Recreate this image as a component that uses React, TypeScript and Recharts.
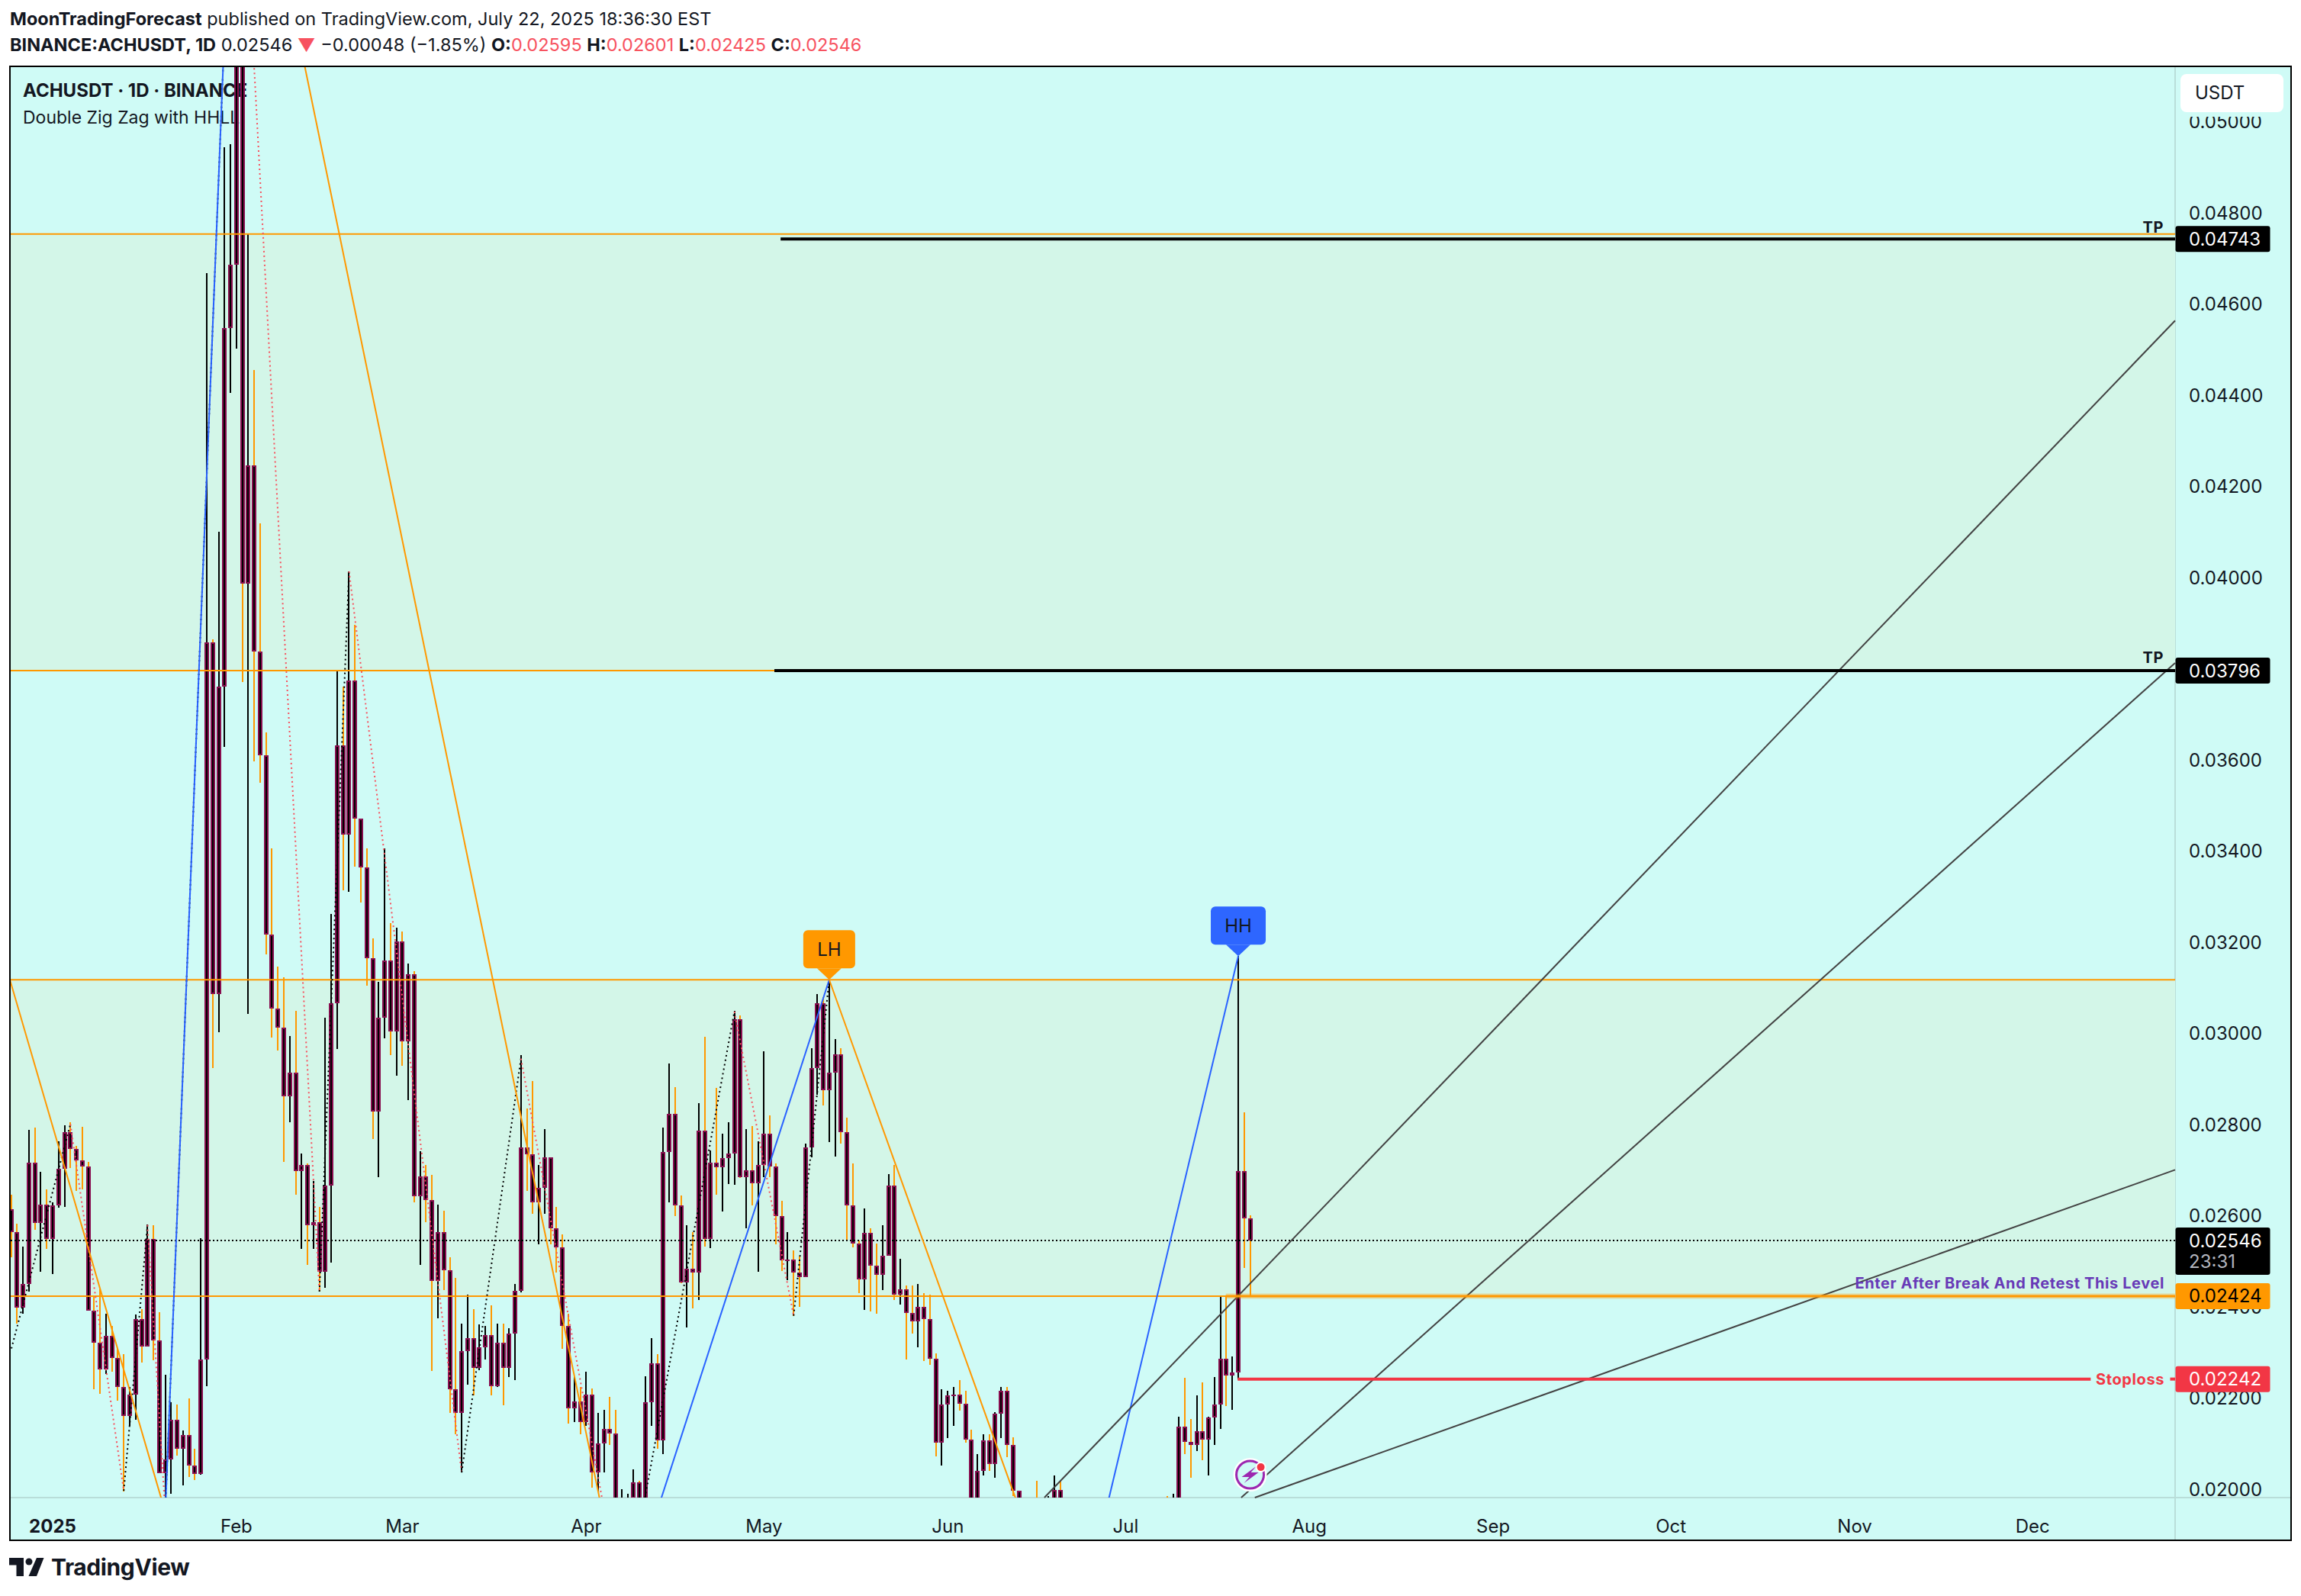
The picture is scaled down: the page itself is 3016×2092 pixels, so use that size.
import React from "react";
import {
  Bar,
  ComposedChart,
  Line,
  ReferenceArea,
  ReferenceDot,
  ReferenceLine,
  XAxis,
  YAxis,
} from "recharts";

const BG = "#cffbf6";
const ZONE = "#d3f6e8";
const AXIS = "#b9ded9";
const INK = "#131722";
const ORANGE = "#ff9800";
const BLUE = "#2962ff";
const RED = "#f23645";
const PINK = "#f7525f";
const CRIMSON = "#880e4f";
const FONT = "Inter, 'Noto Sans', sans-serif";

// first candle is 7 days before Jan 1, one candle per day up to Jul 22
const FIRST_DAY = -7;
const FIRST_OPEN = 0.02614;

const closes = [
  0.02564, 0.02399, 0.0245, 0.02717, 0.02584, 0.02625, 0.02549,
  0.02623, 0.02704, 0.02784, 0.02747, 0.02722, 0.02708, 0.02392, 0.02322, 0.02263, 0.02337,
  0.02288, 0.02224, 0.02161, 0.02208, 0.02374, 0.02313, 0.02549, 0.02327, 0.02035, 0.02065,
  0.02152, 0.02089, 0.02119, 0.02052, 0.02034, 0.02285, 0.03858, 0.03087, 0.03761, 0.04547,
  0.04686, 0.054, 0.03987, 0.04246, 0.03838, 0.0361, 0.03217, 0.03055, 0.03013, 0.02863,
  0.02914, 0.02699, 0.02711, 0.0258, 0.02587, 0.02477, 0.02666, 0.03066, 0.03633, 0.03437,
  0.03774, 0.03471, 0.03364, 0.03166, 0.02829, 0.03035, 0.03161, 0.03004, 0.03202, 0.02983,
  0.0313, 0.02643, 0.02687, 0.02634, 0.02457, 0.02564, 0.02481, 0.02219, 0.02167, 0.02304,
  0.02331, 0.02266, 0.02312, 0.02338, 0.02227, 0.02322, 0.02267, 0.02342, 0.02435, 0.0275,
  0.02735, 0.0263, 0.02662, 0.02728, 0.02573, 0.02531, 0.02358, 0.02177, 0.02193, 0.02147,
  0.02208, 0.02037, 0.02101, 0.02132, 0.02123, 0.0188, 0.0195, 0.0198, 0.02015, 0.0195,
  0.02192, 0.02276, 0.02107, 0.0274, 0.02823, 0.02623, 0.02454, 0.02484, 0.02475, 0.02787,
  0.02549, 0.02717, 0.02707, 0.02726, 0.02737, 0.03031, 0.02685, 0.027, 0.02672, 0.02711,
  0.0278, 0.02708, 0.026, 0.02502, 0.02504, 0.02475, 0.02466, 0.0275, 0.02925, 0.03066,
  0.02875, 0.02914, 0.02954, 0.02783, 0.02623, 0.0254, 0.02461, 0.02562, 0.0249, 0.0247,
  0.02512, 0.02666, 0.02428, 0.02439, 0.02387, 0.02368, 0.024, 0.02374, 0.02286, 0.02103,
  0.02186, 0.02206, 0.02208, 0.02188, 0.02109, 0.0197, 0.0204, 0.02107, 0.02055, 0.02166,
  0.02217, 0.02098, 0.01997, 0.0195, 0.0194, 0.01915, 0.01895, 0.019, 0.0196, 0.01999,
  0.0193, 0.0178, 0.0181, 0.0182, 0.0184, 0.0183, 0.0186, 0.0184, 0.0188, 0.019,
  0.0189, 0.0191, 0.0193, 0.019, 0.0194, 0.0195, 0.0192, 0.0195, 0.0193, 0.0196,
  0.02137, 0.02105, 0.02097, 0.02127, 0.0211, 0.02157, 0.02187, 0.02286, 0.0225, 0.02257,
  0.02699, 0.02595, 0.02546,
];

const highs = [
  0.02647, 0.02582, 0.02533, 0.02789, 0.02793, 0.02696, 0.02658,
  0.0263, 0.02763, 0.02799, 0.02805, 0.02753, 0.02795, 0.02719, 0.02425, 0.02439, 0.02385,
  0.02358, 0.02309, 0.02297, 0.02224, 0.02383, 0.02396, 0.02581, 0.0258, 0.02389, 0.02251,
  0.02191, 0.02186, 0.02129, 0.02199, 0.02089, 0.02551, 0.04668, 0.03864, 0.041, 0.04944,
  0.04951, 0.0585, 0.0548, 0.04755, 0.04455, 0.04119, 0.0366, 0.03407, 0.03147, 0.03123,
  0.02995, 0.0305, 0.02737, 0.02715, 0.02676, 0.0262, 0.03035, 0.03262, 0.03797, 0.03761,
  0.04014, 0.03896, 0.03472, 0.03407, 0.03209, 0.03113, 0.03407, 0.03242, 0.03232, 0.03224,
  0.03154, 0.03136, 0.02742, 0.02712, 0.0269, 0.02624, 0.02612, 0.02509, 0.02464, 0.02363,
  0.02427, 0.02396, 0.02362, 0.02358, 0.02403, 0.02364, 0.02364, 0.02354, 0.02451, 0.02952,
  0.02835, 0.02896, 0.02712, 0.0279, 0.02728, 0.0262, 0.0256, 0.02385, 0.02246, 0.02224,
  0.02258, 0.02221, 0.02168, 0.02174, 0.02203, 0.02174, 0.02001, 0.0199, 0.02044, 0.02019,
  0.02248, 0.02331, 0.02297, 0.02793, 0.02935, 0.02883, 0.02645, 0.0258, 0.02564, 0.02847,
  0.02993, 0.02744, 0.0288, 0.02781, 0.02805, 0.03049, 0.0304, 0.02791, 0.02797, 0.02763,
  0.02961, 0.0282, 0.02715, 0.02633, 0.02564, 0.02524, 0.02511, 0.02759, 0.02968, 0.03087,
  0.0308, 0.03118, 0.02988, 0.02968, 0.02815, 0.02715, 0.02546, 0.02616, 0.02573, 0.0254,
  0.0258, 0.02692, 0.02712, 0.02506, 0.02448, 0.02448, 0.0245, 0.0243, 0.02428, 0.02298,
  0.02219, 0.02217, 0.02224, 0.02239, 0.02217, 0.02131, 0.02078, 0.02121, 0.02121, 0.0217,
  0.02224, 0.02224, 0.02114, 0.01997, 0.0196, 0.0195, 0.02019, 0.0194, 0.01985, 0.02031,
  0.02019, 0.01935, 0.0183, 0.0186, 0.0188, 0.0187, 0.0189, 0.019, 0.0192, 0.0193,
  0.0195, 0.0194, 0.0196, 0.0195, 0.0197, 0.0198, 0.0196, 0.0197, 0.01985, 0.0199,
  0.02159, 0.02245, 0.02154, 0.02207, 0.02235, 0.02159, 0.02247, 0.02426, 0.02426, 0.02291,
  0.0317, 0.02827, 0.02601,
];

const lows = [
  0.02509, 0.02363, 0.02385, 0.02434, 0.02569, 0.02477, 0.02527,
  0.02473, 0.02618, 0.0262, 0.02705, 0.02654, 0.02658, 0.02392, 0.02219, 0.0221, 0.02253,
  0.02258, 0.02195, 0.01996, 0.0214, 0.02152, 0.02278, 0.02313, 0.02284, 0.02035, 0.0195,
  0.01991, 0.02074, 0.02009, 0.02028, 0.0202, 0.02033, 0.02227, 0.02925, 0.03003, 0.03628,
  0.04405, 0.04502, 0.03771, 0.03043, 0.03597, 0.03551, 0.03174, 0.02992, 0.02963, 0.02719,
  0.02805, 0.02647, 0.02527, 0.02493, 0.02527, 0.02434, 0.02443, 0.02497, 0.02966, 0.03314,
  0.03311, 0.03366, 0.03288, 0.03105, 0.02769, 0.02685, 0.0299, 0.02952, 0.02907, 0.0293,
  0.02854, 0.02629, 0.02493, 0.02587, 0.0226, 0.02376, 0.02437, 0.02168, 0.02121, 0.02037,
  0.0223, 0.02206, 0.02262, 0.02285, 0.02206, 0.02225, 0.02185, 0.02246, 0.0224, 0.02432,
  0.02654, 0.02605, 0.02537, 0.02605, 0.02537, 0.02475, 0.02309, 0.02145, 0.02147, 0.02121,
  0.02139, 0.02004, 0.01995, 0.02037, 0.02098, 0.0182, 0.01725, 0.019, 0.0193, 0.0191,
  0.01925, 0.02139, 0.02089, 0.02078, 0.0263, 0.026, 0.02452, 0.02355, 0.02397, 0.02416,
  0.02533, 0.02529, 0.02647, 0.02609, 0.0267, 0.02669, 0.02683, 0.02573, 0.02623, 0.02477,
  0.02685, 0.02685, 0.02537, 0.02479, 0.02459, 0.02381, 0.02401, 0.02466, 0.02728, 0.02865,
  0.02842, 0.02762, 0.0273, 0.02759, 0.02544, 0.02531, 0.0243, 0.02394, 0.02391, 0.02385,
  0.02437, 0.02512, 0.02416, 0.02406, 0.02285, 0.02342, 0.02312, 0.02282, 0.02273, 0.02073,
  0.02053, 0.02113, 0.02139, 0.02172, 0.02103, 0.0195, 0.0194, 0.02031, 0.0204, 0.02026,
  0.02113, 0.02071, 0.01986, 0.019, 0.0189, 0.0187, 0.0186, 0.0185, 0.0188, 0.0193,
  0.0188, 0.01638, 0.0174, 0.0178, 0.018, 0.0179, 0.0181, 0.0182, 0.0183, 0.0186,
  0.0187, 0.0188, 0.0189, 0.0188, 0.0189, 0.0192, 0.019, 0.0191, 0.0191, 0.0192,
  0.0195, 0.02077, 0.02025, 0.02084, 0.02064, 0.0203, 0.02097, 0.02132, 0.02182, 0.02174,
  0.02242, 0.02486, 0.02425,
];

const candles = closes.map((close, i) => ({
  day: FIRST_DAY + i,
  open: i === 0 ? FIRST_OPEN : closes[i - 1],
  high: highs[i],
  low: lows[i],
  close,
}));

// main zig zag (solid), orange going down and blue going up
const zigDays = [-7.21, 19, 31, 96.3, 131, 171.9, 200];
const zigValues = [0.03118, 0.0195, 0.0585, 0.01725, 0.03118, 0.01638, 0.0317];

// smaller zig zag (dotted), pink going down and black going up
const swingDays = [-6.95, 3, 12, 16, 19, 31, 45, 50, 69, 79, 96.3, 115, 125, 131];
const swingValues = [
  0.02309, 0.02801, 0.01997, 0.0258, 0.0195, 0.0585, 0.02434, 0.04014, 0.02037, 0.02945, 0.01725,
  0.03048, 0.02381, 0.03118,
];

const monthDays = [0, 31, 59, 90, 120, 151, 181, 212, 243, 273, 304, 334];
const monthLabels = ["2025", "Feb", "Mar", "Apr", "May", "Jun", "Jul", "Aug", "Sep", "Oct", "Nov", "Dec"];
const priceTicks = [
  0.02, 0.022, 0.024, 0.026, 0.028, 0.03, 0.032, 0.034, 0.036, 0.038, 0.04, 0.042, 0.044, 0.046,
  0.048, 0.05,
];

const X_MIN = -7.207;
const X_MAX = 358.04;
const Y_MIN = 0.01982;
const Y_MAX = 0.0512;

const zoneTops = [0.04754, 0.03118];
const zoneBottoms = [0.03796, 0.02424];
const orangeLevels = [0.04754, 0.03796, 0.03118, 0.02424];
const LAST_PRICE = 0.02546;
const TP_LEVELS = [0.04743, 0.03796];
const TP_STARTS = [122.8, 121.75];
const ENTRY = 0.02424;
const STOP = 0.02242;

const trendStarts = [
  [167.3, Y_MIN],
  [200.5, Y_MIN],
  [202.8, Y_MIN],
];
const trendEnds = [
  [X_MAX, 0.04564],
  [X_MAX, 0.03813],
  [X_MAX, 0.02701],
];

// prices with a coloured tag on the axis; they come last in the axis ticks so they cover the plain labels
const tagPrices = [0.04743, 0.03796, 0.02546, 0.02424, 0.02242];
const tagFills = ["#000000", "#000000", "#000000", ORANGE, RED];
const tagColors = ["#ffffff", "#ffffff", "#ffffff", "#000000", "#ffffff"];
const COUNTDOWN = "23:31";

function Candle(props: any) {
  const { x, y, width, height, payload } = props;
  const { open, close, high, low } = payload;
  const perUnit = height / (high - low);
  const at = (v: number) => y + (high - v) * perUnit;
  const cx = Math.round(x + width / 2);
  const top = at(Math.max(open, close));
  const bodyH = Math.max(at(Math.min(open, close)) - top, 2);
  const wick = close < open ? ORANGE : "#000000";
  return (
    <g shapeRendering="crispEdges">
      <rect x={cx - 1} y={y} width={2} height={height} fill={wick} />
      <rect x={cx - 3} y={top} width={6} height={bodyH} fill={CRIMSON} />
      {bodyH > 4 && <rect x={cx - 1} y={top + 2} width={2} height={bodyH - 4} fill="#000000" />}
    </g>
  );
}

function MonthTick({ x, y, payload }: any) {
  const i = monthDays.indexOf(payload.value);
  return (
    <text
      x={x}
      y={y + 29}
      textAnchor="middle"
      dominantBaseline="central"
      fontFamily={FONT}
      fontSize={24}
      fontWeight={i === 0 ? 700 : 400}
      fill={INK}
    >
      {monthLabels[i]}
    </text>
  );
}

function PriceTick({ x, y, payload }: any) {
  const tag = tagPrices.indexOf(payload.value);
  const label = payload.value.toFixed(5);
  const common = { x, fontFamily: FONT, fontSize: 24, dominantBaseline: "central" } as any;
  if (tag < 0) {
    return (
      <text {...common} y={y} fill={INK}>
        {label}
      </text>
    );
  }
  const isLast = payload.value === LAST_PRICE;
  return (
    <g>
      <rect x={x - 17.5} y={y - 17} width={124} height={isLast ? 62 : 34} rx={3} fill={tagFills[tag]} />
      <text {...common} y={y} fill={tagColors[tag]}>
        {label}
      </text>
      {isLast && (
        <text {...common} y={y + 27} fill="#b2b5be">
          {COUNTDOWN}
        </text>
      )}
    </g>
  );
}

function textAt(label: string, color: string, right: number, dy: number, size: number) {
  return ({ cx, cy }: any) => (
    <text
      x={cx - right}
      y={cy + dy}
      textAnchor="end"
      dominantBaseline="central"
      fontFamily={FONT}
      fontSize={size}
      fontWeight={700}
      letterSpacing={0.6}
      fill={color}
    >
      {label}
    </text>
  );
}

function swingBadge(label: string, fill: string, halfW: number, h: number, gap: number) {
  return ({ cx, cy }: any) => {
    const bottom = cy - gap;
    return (
      <g>
        <rect x={cx - halfW} y={bottom - h} width={halfW * 2} height={h} rx={6} fill={fill} />
        <path d={`M${cx - 16} ${bottom} L${cx} ${cy} L${cx + 16} ${bottom} Z`} fill={fill} />
        <text
          x={cx}
          y={bottom - h / 2}
          textAnchor="middle"
          dominantBaseline="central"
          fontFamily={FONT}
          fontSize={24}
          fill={INK}
        >
          {label}
        </text>
      </g>
    );
  };
}

function BoltIcon({ cx, cy }: any) {
  return (
    <g>
      <circle cx={cx} cy={cy} r={22} fill="#ffffff" />
      <circle cx={cx} cy={cy} r={18} fill={BG} stroke="#9c27b0" strokeWidth={3} />
      <path
        d={`M${cx + 8} ${cy - 11} L${cx - 11} ${cy + 3} L${cx - 1} ${cy + 3} L${cx - 8} ${cy + 11} L${cx + 11} ${cy - 3} L${cx + 1} ${cy - 3} Z`}
        fill="#9c27b0"
      />
      <circle cx={cx + 14} cy={cy - 10} r={7} fill="#ffffff" />
      <circle cx={cx + 14} cy={cy - 10} r={5} fill={RED} />
    </g>
  );
}

function legLines(days: number[], values: number[], dotted: boolean) {
  return days.slice(1).map((day, i) => {
    const up = values[i + 1] > values[i];
    const leg = [
      { day: days[i], price: values[i] },
      { day, price: values[i + 1] },
    ];
    const color = dotted ? (up ? "#000000" : PINK) : up ? BLUE : ORANGE;
    return (
      <Line
        key={`${dotted ? "swing" : "zig"}-${i}`}
        data={leg}
        dataKey="price"
        type="linear"
        dot={false}
        activeDot={false}
        stroke={color}
        strokeWidth={2}
        strokeDasharray={dotted ? "2 4" : undefined}
        isAnimationActive={false}
        legendType="none"
      />
    );
  });
}

function Header() {
  const red = { color: PINK };
  const bold = { fontWeight: 700 };
  return (
    <div style={{ position: "absolute", left: 13, top: 10, fontFamily: FONT, fontSize: 23.5, color: INK, whiteSpace: "nowrap" }}>
      <div style={{ height: 34, lineHeight: "30px" }}>
        <span style={bold}>MoonTradingForecast</span> published on TradingView.com, July 22, 2025 18:36:30 EST
      </div>
      <div style={{ height: 34, lineHeight: "30px" }}>
        <span style={bold}>BINANCE:ACHUSDT, 1D</span> 0.02546 <span style={red}>▼</span> −0.00048 (−1.85%){" "}
        <span style={bold}>O:</span>
        <span style={red}>0.02595</span> <span style={bold}>H:</span>
        <span style={red}>0.02601</span> <span style={bold}>L:</span>
        <span style={red}>0.02425</span> <span style={bold}>C:</span>
        <span style={red}>0.02546</span>
      </div>
    </div>
  );
}

function Logo() {
  return (
    <div style={{ position: "absolute", left: 12, top: 2036, display: "flex", alignItems: "center", color: INK }}>
      <svg width={46} height={36} viewBox="0 0 46 36" style={{ marginRight: 9 }}>
        <path d="M0 6 H19 V30 H9.5 V15.5 H0 Z" fill={INK} />
        <circle cx={26} cy={11} r={4.5} fill={INK} />
        <path d="M36 6 H45.5 L36 30 H25.5 Z" fill={INK} />
      </svg>
      <span style={{ fontFamily: FONT, fontWeight: 700, fontSize: 30, letterSpacing: -0.4 }}>TradingView</span>
    </div>
  );
}

export default function App() {
  return (
    <div style={{ position: "absolute", left: 0, top: 0, width: 3016, height: 2092, background: "#ffffff", overflow: "hidden" }}>
      <Header />
      <div style={{ position: "absolute", left: 13, top: 88, width: 2990, height: 1931, background: BG }} />
      <div style={{ position: "absolute", left: 2850, top: 88, width: 2, height: 1931, background: AXIS }} />
      <div style={{ position: "absolute", left: 13, top: 1962, width: 2990, height: 2, background: AXIS }} />
      <div style={{ position: "absolute", left: 30, top: 104, fontFamily: FONT, fontSize: 24, fontWeight: 700, color: INK, whiteSpace: "nowrap" }}>
        ACHUSDT · 1D · BINANCE
      </div>
      <div style={{ position: "absolute", left: 30, top: 140, fontFamily: FONT, fontSize: 23, color: INK, whiteSpace: "nowrap" }}>
        Double Zig Zag with HHLL
      </div>
      <div style={{ position: "absolute", left: 0, top: 0 }}>
        <ComposedChart
          width={3016}
          height={2092}
          data={candles}
          margin={{ top: 88, right: 13, bottom: 73, left: 13 }}
        >
          <XAxis
            dataKey="day"
            type="number"
            domain={[X_MIN, X_MAX]}
            allowDataOverflow
            ticks={monthDays}
            interval={0}
            height={56}
            axisLine={false}
            tickLine={false}
            tick={<MonthTick />}
          />
          <YAxis
            orientation="right"
            type="number"
            domain={[Y_MIN, Y_MAX]}
            allowDataOverflow
            ticks={[...priceTicks, ...tagPrices]}
            interval={0}
            width={152}
            axisLine={false}
            tickLine={false}
            tickSize={0}
            tickMargin={18}
            tick={<PriceTick />}
          />
          {zoneTops.map((top, i) => (
            <ReferenceArea key={top} y1={zoneBottoms[i]} y2={top} fill={ZONE} fillOpacity={1} stroke="none" />
          ))}
          {orangeLevels.map((v) => (
            <ReferenceLine key={v} y={v} stroke={ORANGE} strokeWidth={2} />
          ))}
          <ReferenceLine y={LAST_PRICE} stroke="#000000" strokeWidth={2} strokeDasharray="2 3" />
          <Bar
            dataKey={(d: any) => [d.low, d.high]}
            barSize={6}
            shape={<Candle />}
            isAnimationActive={false}
          />
          {legLines(swingDays, swingValues, true)}
          {legLines(zigDays, zigValues, false)}
          {trendStarts.map((start, i) => (
            <ReferenceLine
              key={`trend-${i}`}
              segment={[
                { x: start[0], y: start[1] },
                { x: trendEnds[i][0], y: trendEnds[i][1] },
              ]}
              stroke="#434343"
              strokeWidth={2}
            />
          ))}
          {TP_LEVELS.map((v, i) => (
            <ReferenceLine
              key={`tp-${i}`}
              segment={[
                { x: TP_STARTS[i], y: v },
                { x: X_MAX, y: v },
              ]}
              stroke="#000000"
              strokeWidth={4}
            />
          ))}
          <ReferenceLine
            segment={[
              { x: 197.9, y: ENTRY },
              { x: X_MAX, y: ENTRY },
            ]}
            stroke={ORANGE}
            strokeOpacity={0.3}
            strokeWidth={7}
          />
          <ReferenceLine
            segment={[
              { x: 197.9, y: ENTRY },
              { x: X_MAX, y: ENTRY },
            ]}
            stroke={ORANGE}
            strokeWidth={3}
          />
          <ReferenceLine
            segment={[
              { x: 199.9, y: STOP },
              { x: 343.8, y: STOP },
            ]}
            stroke={RED}
            strokeWidth={4}
          />
          <ReferenceLine
            segment={[
              { x: 357.2, y: STOP },
              { x: X_MAX, y: STOP },
            ]}
            stroke={RED}
            strokeWidth={4}
          />
          <ReferenceDot x={131} y={0.03118} shape={swingBadge("LH", ORANGE, 34, 50, 15)} />
          <ReferenceDot x={200} y={0.0317} shape={swingBadge("HH", "#2e66ff", 36, 50, 15)} />
          <ReferenceDot x={202} y={0.02032} shape={<BoltIcon />} />
          <ReferenceDot x={X_MAX} y={TP_LEVELS[0]} shape={textAt("TP", INK, 15, -15, 20)} />
          <ReferenceDot x={X_MAX} y={TP_LEVELS[1]} shape={textAt("TP", INK, 15, -17, 20)} />
          <ReferenceDot x={X_MAX} y={ENTRY} shape={textAt("Enter After Break And Retest This Level", "#673ab7", 14, -17, 20)} />
          <ReferenceDot x={X_MAX} y={STOP} shape={textAt("Stoploss", RED, 14, 0, 20)} />
        </ComposedChart>
      </div>
      <div
        style={{
          position: "absolute",
          left: 2858,
          top: 97,
          width: 135,
          height: 50,
          borderRadius: 8,
          background: "#ffffff",
          boxShadow: `0 0 0 6px ${BG}`,
          fontFamily: FONT,
          fontSize: 24,
          lineHeight: "50px",
          paddingLeft: 19,
          boxSizing: "border-box",
          color: INK,
        }}
      >
        USDT
      </div>
      <div style={{ position: "absolute", left: 12, top: 86, width: 2992, height: 1934, border: "2px solid #000000", boxSizing: "border-box" }} />
      <Logo />
    </div>
  );
}
